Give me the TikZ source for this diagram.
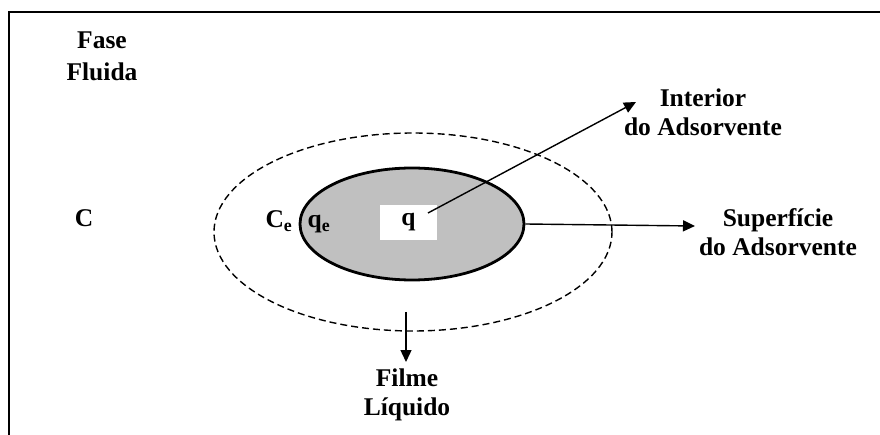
\documentclass[tikz,border=0pt]{standalone}
\usepackage{fontspec}
\setmainfont{Liberation Serif}
\usetikzlibrary{arrows.meta,shapes.geometric,positioning}
\definecolor{silver}{HTML}{C0C0C0}
\tikzset{
  lbl/.style={font=\bfseries\fontsize{25.5}{29}\selectfont, align=center, inner sep=0pt},
  arr/.style={-{Triangle[length=12pt,width=11pt]}, line width=1.4pt},
  film/.style={ellipse, draw, dash pattern=on 7pt off 4pt, line width=1.4pt,
               minimum width=398pt, minimum height=198pt, inner sep=0pt},
  grain/.style={ellipse, draw, fill=silver, line width=2.8pt,
                minimum width=224pt, minimum height=112pt, inner sep=0pt},
  qbox/.style={lbl, fill=white, minimum width=57pt, minimum height=35pt}
}
\begin{document}
\begin{tikzpicture}[x=1pt,y=-1pt]
  \useasboundingbox (0,0) rectangle (880,435);
  % frame
  \draw[line width=1.4pt] (880,12) -- (9,12) -- (9,435);
  % particle and liquid film
  \node[film] (fi) at (413,232) {};
  \node[grain] (gr) at (412,224) {};
  \node[qbox] (q) at (408.5,222.5) {q};
  % labels
  \node[lbl] (fase) at (102,56) {Fase\\[3pt]Fluida};
  \node[lbl, anchor=base] (c) at (84,227) {C};
  \node[lbl, anchor=base] (ce) at (279,228) {C\textsubscript{e}};
  \node[lbl, anchor=base] (qe) at (319,228) {q\textsubscript{e}};
  \node[lbl] (int) at (703,112) {Interior\\do Adsorvente};
  \node[lbl] (sup) at (778,232) {Superfície\\do Adsorvente};
  \node[lbl] (fl) at (407,395) {Filme\\Líquido};
  % arrows
  \coordinate (qa) at (428,213);
  \coordinate (ia) at (636,102);
  \coordinate (sa) at (695,226);
  \coordinate (fa) at (406,312);
  \coordinate (fb) at (406,362);
  \draw[arr] (qa) -- (ia);
  \draw[arr] (gr.east) -- (sa);
  \draw[arr] (fa) -- (fb);
\end{tikzpicture}
\end{document}
